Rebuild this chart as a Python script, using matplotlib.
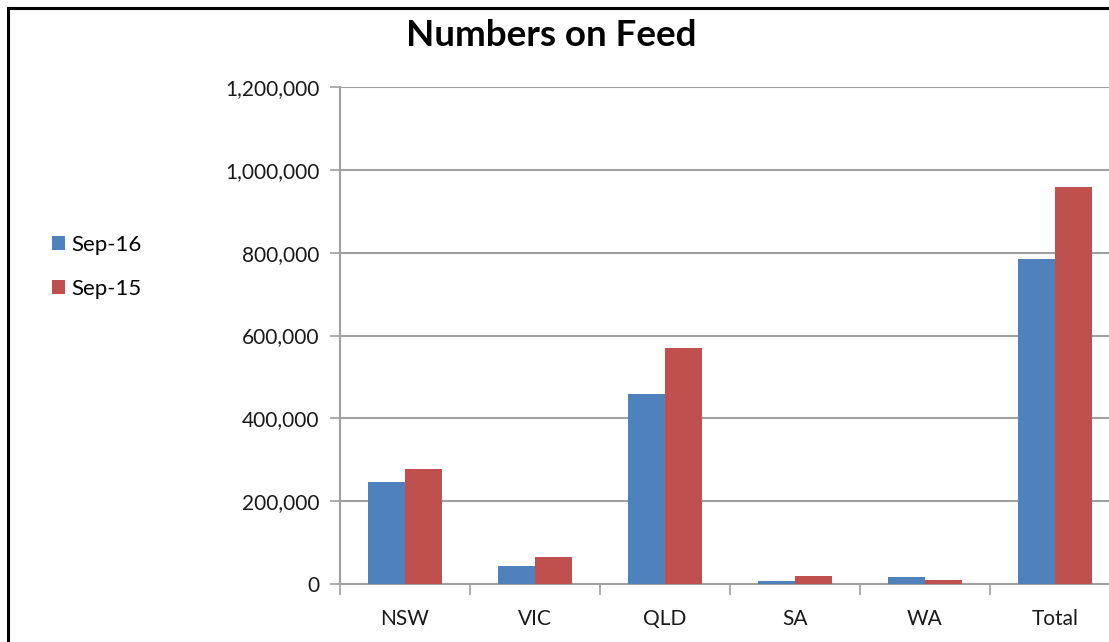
import numpy as np
import matplotlib
matplotlib.use('Agg')
import matplotlib.pyplot as plt
from matplotlib.lines import Line2D
from matplotlib.ticker import FuncFormatter, FixedLocator

# datos
categorias = ['NSW', 'VIC', 'QLD', 'SA', 'WA', 'Total']
sep16 = [247000, 44000, 458000, 6500, 17000, 784000]
sep15 = [278000, 65000, 571000, 20000, 10000, 958000]
series = ['Sep-16', 'Sep-15']

azul = '#4F81BD'
rojo = '#C0504D'
gris = '#A0A0A0'

plt.rcParams['font.family'] = ['Lato', 'DejaVu Sans']

W, H = 1109, 642
fig = plt.figure(figsize=(W/100, H/100), dpi=100)
ax = fig.add_axes([340/W, (H-584)/H, (1120-340)/W, (584-87)/H])

x = np.arange(len(categorias))
ancho = 0.285
b1 = ax.bar(x - ancho/2, sep16, ancho, color=azul, label=series[0], zorder=3)
b2 = ax.bar(x + ancho/2, sep15, ancho, color=rojo, label=series[1], zorder=3)

ax.set_xlim(-0.5, len(categorias) - 0.5)
ax.set_ylim(0, 1200000)
ax.set_yticks(np.arange(0, 1200001, 200000))
ax.yaxis.set_major_formatter(FuncFormatter(lambda v, p: f'{int(v):,}'))
ax.yaxis.grid(True, color=gris, linewidth=1.5, zorder=0)

ax.set_xticks(x)
ax.set_xticklabels(categorias)
ax.xaxis.set_minor_locator(FixedLocator(np.arange(-0.5, len(categorias), 1)))
ax.tick_params(axis='x', which='major', length=0, pad=18, labelsize=15, labelcolor='#1a1a1a')
ax.tick_params(axis='x', which='minor', length=8, width=1.2, color=gris, direction='out')
ax.tick_params(axis='y', length=7, width=1.2, color=gris, pad=8, labelsize=15, labelcolor='#1a1a1a')

for s in ['top', 'right']:
    ax.spines[s].set_visible(False)
for s in ['left', 'bottom']:
    ax.spines[s].set_color(gris)
    ax.spines[s].set_linewidth(1.5)

fig.text(551/W, 1 - 35/H, 'Numbers on Feed', ha='center', va='center',
         fontsize=26.5, fontweight='bold', color='#000000')

fig.legend(handles=[b1, b2], labels=series, loc='center left',
           bbox_to_anchor=(32/W, 1 - 267/H), frameon=False, fontsize=16,
           handlelength=0.6, handleheight=0.6, handletextpad=0.25, labelspacing=1.1)

# marco negro
fig.add_artist(Line2D([8/W, 8/W], [0, 1 - 8/H], color='black', linewidth=2.2))
fig.add_artist(Line2D([8/W, 1], [1 - 8/H, 1 - 8/H], color='black', linewidth=2.2))

plt.savefig('out.png', dpi=100)
